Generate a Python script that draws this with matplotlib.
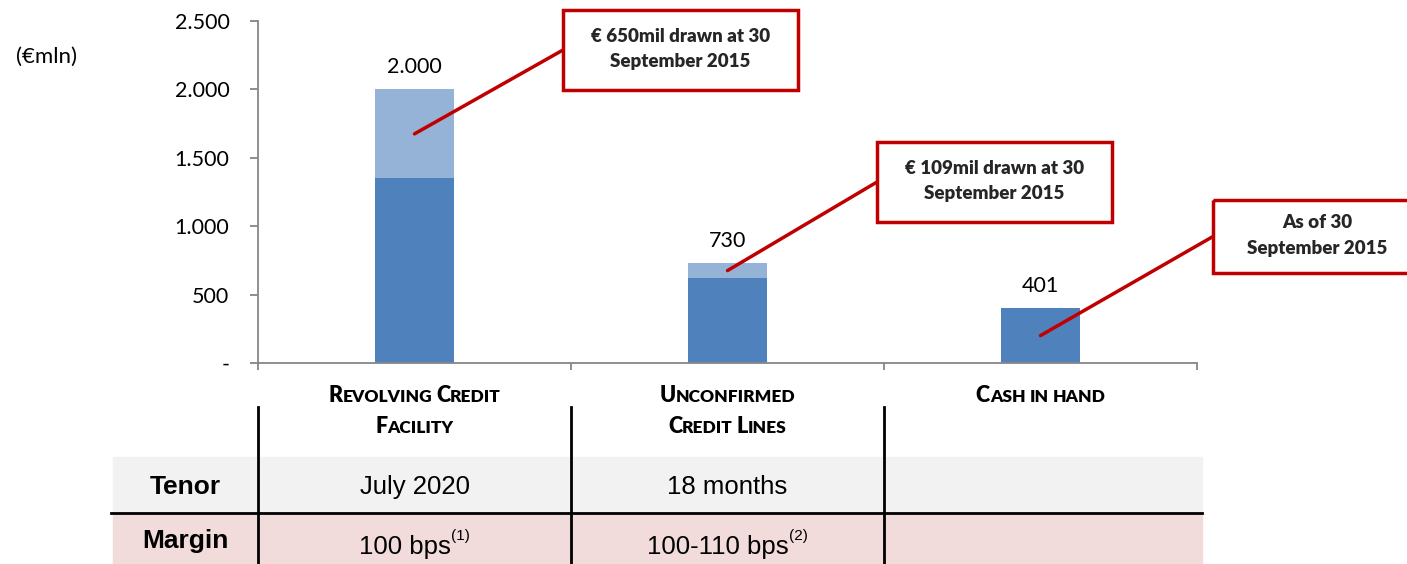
import matplotlib
matplotlib.use("Agg")
import matplotlib.pyplot as plt
from matplotlib.patches import Rectangle, ConnectionPatch
import numpy as np

# ---------------------------------------------------------------
# Data
# ---------------------------------------------------------------
categories = [["Revolving Credit", "Facility"],
              ["Unconfirmed", "Credit Lines"],
              ["Cash in hand"]]
totals = np.array([2000, 730, 401])
drawn = np.array([650, 109, 0])
notes = ["€ 650mil drawn at 30\nSeptember 2015",
         "€ 109mil drawn at 30\nSeptember 2015",
         "As of 30\nSeptember 2015"]
row_labels = ["Tenor", "Margin"]
tenor = ["July 2020", "18 months", ""]
margin = ["100 bps", "100-110 bps", ""]
margin_note = ["(1)", "(2)", ""]
yticks = [0, 500, 1000, 1500, 2000, 2500]
ytick_labels = ["-", "500", "1.000", "1.500", "2.000", "2.500"]

DARK = "#4F81BD"
LIGHT = "#95B3D7"
RED = "#C00000"
GRID = "#868686"
CAL = "Lato"
ARL = "Liberation Sans"

W, H = 1407, 564
fig = plt.figure(figsize=(W / 100, H / 100), dpi=100)

# overlay axes in pixel coordinates (y down) for the table and boxes
ov = fig.add_axes([0, 0, 1, 1])
ov.set_xlim(0, W)
ov.set_ylim(H, 0)
ov.axis("off")

# chart axes
x0, x1, ytop, ybot = 258, 1197, 21, 363
ax = fig.add_axes([x0 / W, 1 - ybot / H, (x1 - x0) / W, (ybot - ytop) / H])
ax.patch.set_alpha(0)

x = np.arange(len(totals)) + 0.5
avail = totals - drawn
ax.bar(x, avail, 0.25, color=DARK, zorder=2)
ax.bar(x, drawn, 0.25, bottom=avail, color=LIGHT, zorder=2)
for xi, t in zip(x, totals):
    ax.annotate(f"{t:,}".replace(",", "."), (xi, t), xytext=(0, 22),
                textcoords="offset pixels", ha="center", va="center",
                fontsize=15.5, family=CAL)

ax.set_xlim(0, 3)
ax.set_ylim(0, 2500)
ax.set_yticks(yticks)
ax.set_yticklabels(ytick_labels, fontsize=15.5, family=CAL)
ax.set_xticks([0, 1, 2, 3])
ax.set_xticklabels([])
for s in ["top", "right"]:
    ax.spines[s].set_visible(False)
for s in ["left", "bottom"]:
    ax.spines[s].set_color(GRID)
    ax.spines[s].set_linewidth(1.3)
ax.tick_params(axis="y", length=5.5, width=1.3, color=GRID, pad=15)
ax.tick_params(axis="x", length=5, width=1.3, color=GRID)

fig.text(46 / W, 1 - 57 / H, "(€mln)", ha="center", va="center",
         fontsize=16, family=CAL)

# annotation boxes with leader lines
boxes = [(563, 10, 235, 80), (877, 142, 235, 80), (1213, 200, 200, 73)]
for i, (bx, by, bw, bh) in enumerate(boxes):
    ov.add_patch(Rectangle((bx, by), bw, bh, fill=False, edgecolor=RED,
                           linewidth=2.5, zorder=5))
    tx = bx + bw / 2 if i < 2 else bx + 104
    ov.text(tx, by + bh / 2 - 1, notes[i], ha="center", va="center",
            fontsize=13.5, fontweight="heavy", family=CAL, color="#262626",
            linespacing=1.6, zorder=6)
    top = drawn[i] if drawn[i] > 0 else avail[i]
    ymid = totals[i] - top / 2
    con = ConnectionPatch(xyA=(bx, by + bh / 2), coordsA=ov.transData,
                          xyB=(x[i], ymid), coordsB=ax.transData,
                          color=RED, linewidth=2.5, zorder=7)
    fig.add_artist(con)

# table
cols = [258, 571, 884, 1197]
ov.add_patch(Rectangle((113, 457), 1202 - 113, 56, color="#F2F2F2", zorder=1))
ov.add_patch(Rectangle((113, 513), 1202 - 113, 51, color="#F2DCDB", zorder=1))
ov.plot([111, 1202], [513, 513], color="black", lw=2, zorder=3)
for c in cols[:3]:
    ov.plot([c, c], [407, 564], color="black", lw=2, zorder=3)

renderer = fig.canvas.get_renderer()


def place_runs(cx, cy, runs):
    # runs: list of (text, size, weight, family, dy)
    arts = []
    widths = []
    for txt, size, weight, fam, dy in runs:
        a = ov.text(0, cy + dy, txt, fontsize=size, fontweight=weight,
                    family=fam, ha="left", va="baseline", zorder=6)
        bb = a.get_window_extent(renderer)
        arts.append(a)
        widths.append(bb.width)
    total = sum(widths)
    xpos = cx - total / 2
    for a, w in zip(arts, widths):
        a.set_x(xpos)
        xpos += w


def small_caps(text, big=15.5, small=12.5):
    runs = []
    for word_i, word in enumerate(text.split(" ")):
        if word_i > 0:
            runs.append((" ", small, "heavy", CAL, 0))
        if word[0].isupper():
            runs.append((word[0].upper(), big, "heavy", CAL, 0))
            rest = word[1:]
        else:
            rest = word
        if rest:
            runs.append((rest.upper(), small, "heavy", CAL, 0))
    return runs


for i, lines in enumerate(categories):
    cx = (cols[i] + cols[i + 1]) / 2
    for j, line in enumerate(lines):
        place_runs(cx, 402 + 31 * j, small_caps(line))

ov.text(185, 487, row_labels[0], ha="center", va="center", fontsize=19,
        fontweight="bold", family=ARL, zorder=6)
ov.text(185, 541, row_labels[1], ha="center", va="center", fontsize=19,
        fontweight="bold", family=ARL, zorder=6)
for i in range(3):
    cx = (cols[i] + cols[i + 1]) / 2
    if tenor[i]:
        ov.text(cx, 487, tenor[i], ha="center", va="center", fontsize=18.5,
                family=ARL, zorder=6)
    if margin[i]:
        place_runs(cx, 554, [(margin[i], 18.5, "normal", ARL, 0),
                             (margin_note[i], 11, "normal", ARL, -14)])

fig.savefig("out.png", dpi=100)
